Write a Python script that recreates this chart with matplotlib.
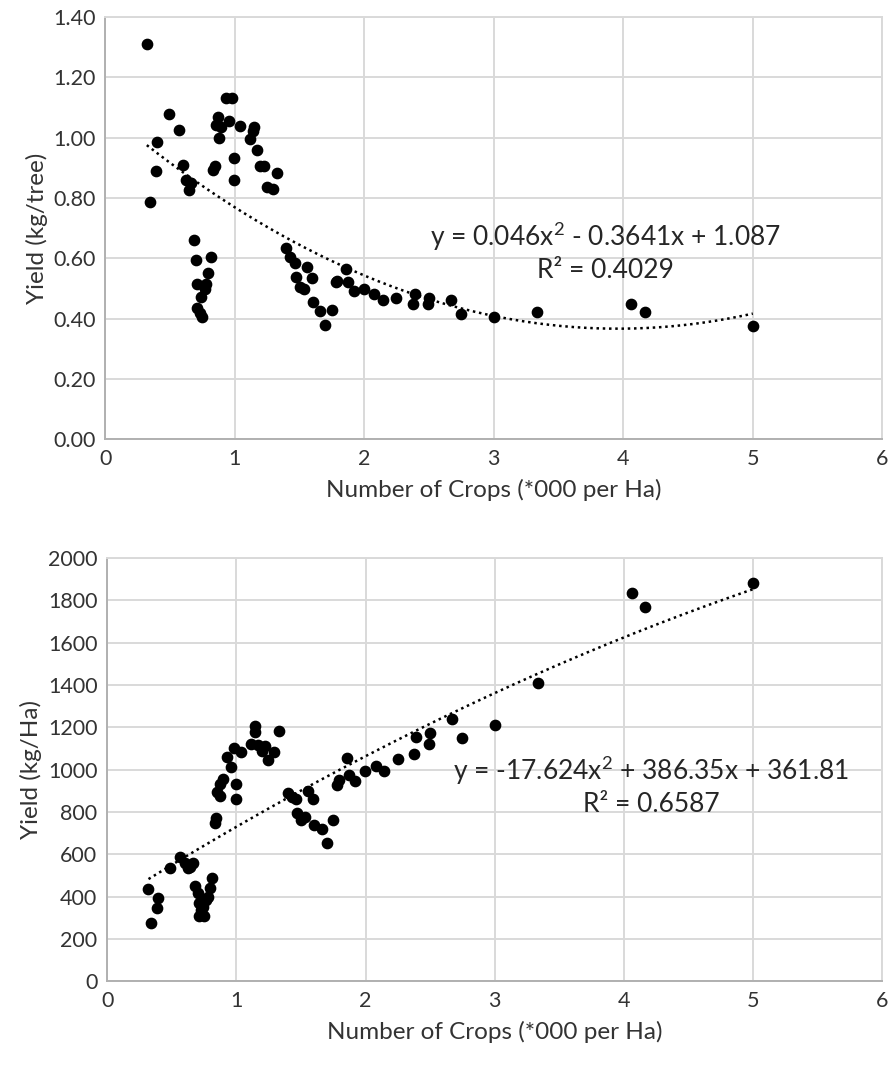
import numpy as np
import matplotlib
matplotlib.use("Agg")
import matplotlib.pyplot as plt

plt.rcParams['font.family'] = ['Lato', 'DejaVu Sans']
plt.rcParams['mathtext.fontset'] = 'custom'
plt.rcParams['mathtext.rm'] = 'Lato'
plt.rcParams['mathtext.it'] = 'Lato'

# number of crops (*000 per Ha), shared by both panels
crops = [0.32, 0.49, 0.567, 0.396, 0.389, 0.341, 0.60, 0.623, 0.662, 0.645,
         0.928, 0.98, 0.872, 0.956, 0.851, 0.896, 0.874, 1.038, 1.145, 1.142,
         1.116, 1.17, 0.994, 1.195, 1.224, 1.329, 0.832, 0.843, 0.994, 1.248,
         1.294, 0.682, 0.70, 0.812, 0.795, 0.711, 0.78, 0.768, 0.74, 0.708,
         0.728, 0.747, 1.398, 1.427, 1.465, 1.556, 1.47, 1.592, 1.50, 1.534,
         1.603, 1.661, 1.75, 1.698, 1.856, 1.792, 1.78, 1.87, 1.921, 1.997,
         2.078, 2.142, 2.248, 2.394, 2.372, 2.497, 2.493, 2.673, 2.748, 3.0,
         3.335, 4.06, 4.167, 5.0]

yield_tree = [1.31, 1.078, 1.027, 0.987, 0.89, 0.787, 0.911, 0.861, 0.85, 0.826,
              1.13, 1.13, 1.067, 1.056, 1.043, 1.034, 0.998, 1.038, 1.034, 1.021,
              0.995, 0.958, 0.934, 0.906, 0.906, 0.882, 0.894, 0.905, 0.858, 0.835,
              0.83, 0.662, 0.594, 0.603, 0.552, 0.514, 0.514, 0.497, 0.472, 0.436,
              0.417, 0.406, 0.635, 0.605, 0.583, 0.571, 0.538, 0.534, 0.505, 0.499,
              0.455, 0.426, 0.43, 0.378, 0.566, 0.525, 0.52, 0.52, 0.492, 0.497,
              0.483, 0.461, 0.467, 0.48, 0.45, 0.467, 0.447, 0.461, 0.415, 0.404,
              0.422, 0.447, 0.422, 0.375]

yield_ha = [435, 537, 589, 395, 348, 275, 560, 537, 560, 541,
            1058, 1105, 935, 1013, 895, 958, 876, 1083, 1205, 1178,
            1124, 1116, 932, 1089, 1111, 1182, 749, 773, 861, 1045,
            1083, 450, 419, 491, 440, 369, 400, 384, 350, 309,
            337, 309, 888, 869, 861, 900, 796, 861, 762, 777,
            738, 720, 762, 652, 1055, 950, 930, 974, 945, 993,
            1017, 993, 1053, 1155, 1076, 1174, 1120, 1241, 1150, 1213,
            1411, 1834, 1770, 1883]

# trendline coefficients as printed on the chart
coef_tree = [0.046, -0.3641, 1.087]
coef_ha = [-17.624, 386.35, 361.81]
eq_tree = "y = 0.046x$^{2}$ - 0.3641x + 1.087\nR\u00b2 = 0.4029"
eq_ha = "y = -17.624x$^{2}$ + 386.35x + 361.81\nR\u00b2 = 0.6587"

txt = '#333333'
grid = '#d9d9d9'

fig = plt.figure(figsize=(8.93, 10.66), dpi=100)
ax1 = fig.add_axes([0.118, 0.588, 0.870, 0.396])
ax2 = fig.add_axes([0.120, 0.0793, 0.868, 0.3972])


def style(ax):
    ax.set_xlim(0, 6)
    ax.set_xticks(range(0, 7))
    ax.grid(True, color=grid, linewidth=1.4)
    ax.set_axisbelow(True)
    for s in ['top', 'right']:
        ax.spines[s].set_color(grid)
        ax.spines[s].set_linewidth(1.4)
    for s in ['left', 'bottom']:
        ax.spines[s].set_color('#b0b0b0')
        ax.spines[s].set_linewidth(1.4)
    ax.tick_params(length=0, labelsize=15.5, colors=txt, pad=7)
    ax.set_xlabel("Number of Crops (*000 per Ha)", fontsize=17.5, color=txt, labelpad=7)


xs = np.linspace(min(crops), max(crops), 200)

ax1.scatter(crops, yield_tree, s=55, color='black', zorder=3)
ax1.plot(xs, np.polyval(coef_tree, xs), color='black', lw=1.8,
         linestyle=(0, (1, 1.5)), zorder=2)
style(ax1)
ax1.set_ylim(0, 1.4)
ax1.set_yticks(np.arange(0, 1.41, 0.2))
ax1.set_yticklabels(["%.2f" % v for v in np.arange(0, 1.41, 0.2)])
ax1.set_ylabel("Yield (kg/tree)", fontsize=17.5, color=txt, labelpad=4)
ax1.text(3.86, 0.622, eq_tree, ha='center', va='center', fontsize=19,
         color='#262626', linespacing=1.25)

ax2.scatter(crops, yield_ha, s=55, color='black', zorder=3)
ax2.plot(xs, np.polyval(coef_ha, xs), color='black', lw=1.8,
         linestyle=(0, (1, 1.5)), zorder=2)
style(ax2)
ax2.set_ylim(0, 2000)
ax2.set_yticks(range(0, 2001, 200))
ax2.set_ylabel("Yield (kg/Ha)", fontsize=17.5, color=txt, labelpad=4)
ax2.text(4.21, 925, eq_ha, ha='center', va='center', fontsize=19,
         color='#262626', linespacing=1.25)

fig.savefig("out.png", dpi=100)
